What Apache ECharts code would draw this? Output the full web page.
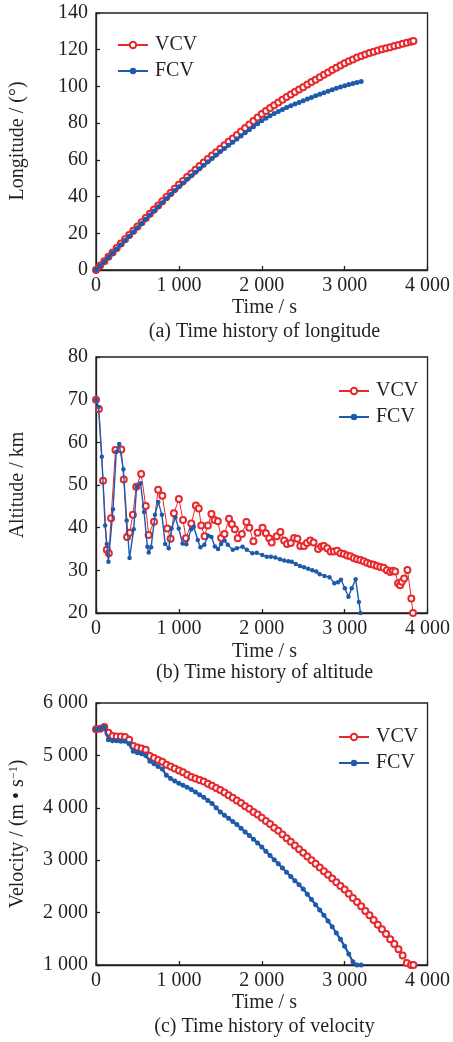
<!DOCTYPE html>
<html>
<head>
<meta charset="utf-8">
<script src="https://cdn.jsdelivr.net/npm/echarts@6/dist/echarts.min.js"></script>
<style>
html,body{margin:0;padding:0;background:#fff;}
#main{width:453px;height:1042px;}
</style>
</head>
<body>
<div id="main"></div>
<script>
// ---- Data ----
// Longitude / velocity sample times (s)
var vcvT = [0,50,100,150,200,250,300,350,400,450,500,550,600,650,700,750,800,850,900,950,1000,1050,1100,1150,1200,1250,1300,1350,1400,1450,1500,1550,1600,1650,1700,1750,1800,1850,1900,1950,2000,2050,2100,2150,2200,2250,2300,2350,2400,2450,2500,2550,2600,2650,2700,2750,2800,2850,2900,2950,3000,3050,3100,3150,3200,3250,3300,3350,3400,3450,3500,3550,3600,3650,3700,3750,3800,3830];
var vcvLon = [0,2.4,4.8,7.2,9.6,12.0,14.4,16.8,19.1,21.4,23.7,26.0,28.3,30.6,32.9,35.2,37.5,39.8,42.0,44.2,46.4,48.5,50.6,52.6,54.6,56.6,58.6,60.5,62.4,64.2,66.0,67.9,69.8,71.7,73.6,75.5,77.4,79.3,81.2,83.1,85.0,86.6,88.2,89.7,91.2,92.7,94.2,95.6,97.0,98.3,99.6,101.0,102.4,103.7,105.0,106.3,107.6,108.9,110.2,111.4,112.6,113.7,114.7,115.7,116.6,117.4,118.2,118.9,119.6,120.2,120.8,121.4,122.0,122.6,123.2,123.8,124.4,124.8];
var vcvVel = [5500,5510,5540,5430,5370,5360,5360,5350,5300,5180,5150,5130,5110,4990,4950,4910,4880,4820,4790,4750,4710,4680,4630,4590,4560,4530,4500,4460,4420,4380,4340,4290,4240,4190,4140,4090,4030,3980,3920,3870,3810,3750,3690,3620,3560,3490,3420,3350,3280,3210,3140,3070,3000,2930,2860,2790,2720,2650,2580,2510,2440,2360,2280,2200,2120,2030,1950,1860,1770,1680,1590,1490,1400,1300,1180,1040,1000,1000];

var fcvT = [0,50,100,150,200,250,300,350,400,450,500,550,600,650,700,750,800,850,900,950,1000,1050,1100,1150,1200,1250,1300,1350,1400,1450,1500,1550,1600,1650,1700,1750,1800,1850,1900,1950,2000,2050,2100,2150,2200,2250,2300,2350,2400,2450,2500,2550,2600,2650,2700,2750,2800,2850,2900,2950,3000,3050,3100,3150,3200];
var fcvLon = [0,2.3,4.6,6.9,9.2,11.5,13.8,16.1,18.4,20.7,23.0,25.3,27.6,29.9,32.2,34.4,36.7,38.9,41.1,43.3,45.4,47.4,49.4,51.4,53.3,55.2,57.1,59.0,60.8,62.7,64.5,66.2,67.9,69.6,71.3,73.0,74.7,76.4,78.0,79.7,81.3,82.7,84.0,85.2,86.4,87.5,88.5,89.5,90.4,91.3,92.2,93.1,94.0,94.9,95.8,96.6,97.4,98.2,99.0,99.7,100.4,101.0,101.6,102.2,102.7];
var fcvVel = [5500,5510,5540,5300,5280,5280,5270,5270,5220,5080,5050,5030,5000,4890,4840,4790,4740,4620,4560,4510,4470,4430,4390,4350,4300,4250,4200,4140,4080,4000,3920,3860,3800,3740,3680,3610,3540,3470,3400,3330,3250,3170,3090,3010,2930,2850,2770,2690,2610,2530,2450,2350,2250,2150,2050,1950,1840,1730,1610,1490,1360,1210,1060,1000,1000];

// Altitude samples (s, km)
var vcvAltT = [0,35,85,130,155,182,235,305,335,375,405,445,485,545,600,635,700,750,800,860,900,940,1000,1050,1085,1150,1205,1240,1270,1310,1350,1393,1430,1470,1510,1550,1605,1640,1675,1710,1760,1815,1850,1900,1950,2010,2050,2090,2120,2180,2225,2270,2305,2350,2390,2430,2465,2510,2545,2585,2625,2680,2720,2750,2790,2830,2870,2910,2950,2990,3030,3070,3110,3150,3190,3230,3270,3310,3350,3390,3430,3470,3510,3550,3580,3610,3645,3670,3690,3718,3758,3805,3825];
var vcvAlt = [70,67.8,51,34.8,34,42.2,58.2,58.3,51.3,37.8,38.8,43,49.6,52.6,45.1,38.3,41.4,48.9,47.5,39.8,37.4,43.4,46.7,41.8,37.5,41,45.2,44.5,40.5,38.0,40.5,43.2,41.8,41.5,37.6,38.5,42.1,40.8,39.6,37.5,38.5,41.3,40,36.8,38.8,40.0,38.7,37.5,36.5,38.0,39.0,37.0,36.2,36.4,37.6,37.4,35.7,35.7,36.4,37.0,36.5,35.0,35.6,35.7,35.2,34.4,34.4,34.6,34.0,33.8,33.5,33.3,32.9,32.6,32.4,32.1,31.8,31.5,31.3,31.0,30.8,30.6,30.0,29.6,29.9,29.7,27.0,26.5,27.3,28.1,30.1,23.4,20];
var fcvAltT = [0,30,70,110,130,150,205,245,280,330,370,405,455,490,537,580,620,636,665,712,752,795,835,877,912,958,998,1045,1090,1149,1180,1228,1260,1307,1355,1394,1434,1473,1510,1551,1590,1650,1700,1768,1820,1887,1940,2006,2060,2110,2164,2220,2270,2320,2362,2410,2460,2510,2560,2610,2658,2700,2757,2817,2876,2920,2956,3003,3046,3086,3133,3172,3192];
var fcvAlt = [70,68.3,56.6,40.5,36.2,32,44.3,57.8,59.6,53.7,41.7,32.9,39.6,49.6,50.4,43.7,35.5,34.2,35.4,43,46,43,36.2,35.2,39.8,42.4,39.8,36.3,36.1,39.6,40.2,37.1,35.4,36,38.1,37.8,35.6,35,36.2,37,36,34.8,35.2,35.5,34.8,34,34.1,33.6,33.2,33.2,33,32.6,32.3,32.1,32,31.5,31.0,30.7,30.4,30.0,29.7,29.1,28.7,28.4,27.0,27.2,27.8,25.8,23.8,25.8,27.9,22.6,20];

// Axis tick values
var xTicks = [0,1000,2000,3000,4000];
var lonTicks = [0,20,40,60,80,100,120,140];
var altTicks = [20,30,40,50,60,70,80];
var velTicks = [1000,2000,3000,4000,5000,6000];

var seriesNames = ['VCV','FCV'];
var captions = ['(a) Time history of longitude','(b) Time history of altitude','(c) Time history of velocity'];

// ---- Styling ----
var FONT = '"Times New Roman","Liberation Serif","DejaVu Serif",serif';
var INK = '#231f20';
var RED = '#e8282c';
var BLUE = '#1e5aab';

function pairs(t, v){ return t.map(function(x,i){ return [x, v[i]]; }); }
function sepFmt(v){
  var s = String(Math.round(v));
  if (s.length > 3) s = s.slice(0, s.length-3) + ' ' + s.slice(s.length-3);
  return s;
}

var grids = [
  {left:96, right:20, top:13, height:257},
  {left:96, right:20, top:357, height:256},
  {left:96, right:20, top:703, height:262}
];
var yRanges = [
  {min: lonTicks[0], max: lonTicks[lonTicks.length-1], interval: lonTicks[1]-lonTicks[0]},
  {min: altTicks[0], max: altTicks[altTicks.length-1], interval: altTicks[1]-altTicks[0]},
  {min: velTicks[0], max: velTicks[velTicks.length-1], interval: velTicks[1]-velTicks[0]}
];

var axisCommon = {
  axisLine:{show:true, lineStyle:{color:INK, width:1.3}},
  axisTick:{show:true, inside:true, length:4, lineStyle:{color:INK, width:1.3}},
  splitLine:{show:false},
  axisLabel:{color:INK, fontFamily:FONT, fontSize:20}
};

var xAxes = grids.map(function(g,i){
  return Object.assign({}, axisCommon, {
    type:'value', gridIndex:i, min:xTicks[0], max:xTicks[xTicks.length-1], interval:xTicks[1]-xTicks[0],
    axisLabel:Object.assign({}, axisCommon.axisLabel, {margin:6, formatter:sepFmt})
  });
});
var yAxes = grids.map(function(g,i){
  return Object.assign({}, axisCommon, {
    type:'value', gridIndex:i, min:yRanges[i].min, max:yRanges[i].max, interval:yRanges[i].interval,
    axisLabel:Object.assign({}, axisCommon.axisLabel, {margin:8, formatter:sepFmt})
  });
});

function redSeries(i, data){
  return {name:seriesNames[0], type:'line', xAxisIndex:i, yAxisIndex:i, data:data,
    symbol:'emptyCircle', symbolSize:6, showSymbol:true,
    lineStyle:{color:RED, width:1}, itemStyle:{color:RED, borderColor:RED, borderWidth:1},
    animation:false, z:2};
}
function blueSeries(i, data, thick){
  return {name:seriesNames[1], type:'line', xAxisIndex:i, yAxisIndex:i, data:data,
    symbol:'circle', symbolSize: thick ? 5 : 4.5, showSymbol:true,
    lineStyle:{color:BLUE, width: thick ? 2.2 : 1.4}, itemStyle:{color:BLUE},
    animation:false, z:3};
}

var series = [
  redSeries(0, pairs(vcvT, vcvLon)), blueSeries(0, pairs(fcvT, fcvLon), true),
  redSeries(1, pairs(vcvAltT, vcvAlt)), blueSeries(1, pairs(fcvAltT, fcvAlt), false),
  redSeries(2, pairs(vcvT, vcvVel)), blueSeries(2, pairs(fcvT, fcvVel), true)
];

function legendAt(left, top){
  return {orient:'vertical', left:left, top:top, itemWidth:30, itemHeight:8, itemGap:6,
    selectedMode:false, data:seriesNames,
    textStyle:{color:INK, fontFamily:FONT, fontSize:20, lineHeight:20, padding:[0,0,0,2]}};
}

var textStyleBase = {fill:INK, font:'20px ' + FONT, textAlign:'center', textVerticalAlign:'middle'};
function txt(x, y, text, rot, rich){
  var st = Object.assign({}, textStyleBase, {text:text});
  if (rich) st.rich = rich;
  return {type:'text', x:x, y:y, rotation:rot||0, style:st, silent:true};
}
var cx = 96 + (453-20-96)/2;
var graphics = [
  txt(cx, 308, 'Time / s'), txt(cx, 332, captions[0]),
  txt(cx, 652, 'Time / s'), txt(cx, 673, captions[1]),
  txt(cx, 1003, 'Time / s'), txt(cx, 1027, captions[2]),
  txt(18, 141, 'Longitude / (°)', Math.PI/2),
  txt(18, 485, 'Altitude / km', Math.PI/2),
  txt(18, 834, 'Velocity / (m • s{sup|−1})', Math.PI/2, {sup:{fontSize:12, fontFamily:FONT, fill:INK, verticalAlign:'top', lineHeight:12}})
];

var chart = echarts.init(document.getElementById('main'), null, {renderer:'canvas'});
chart.setOption({
  animation:false,
  backgroundColor:'#fff',
  grid: grids.map(function(g){ return Object.assign({show:true, borderColor:INK, borderWidth:1.3, backgroundColor:'transparent'}, g); }),
  xAxis: xAxes,
  yAxis: yAxes,
  legend: [legendAt(112, 30), legendAt(333, 376), legendAt(333, 722)],
  series: series,
  graphic: graphics
});
</script>
</body>
</html>
